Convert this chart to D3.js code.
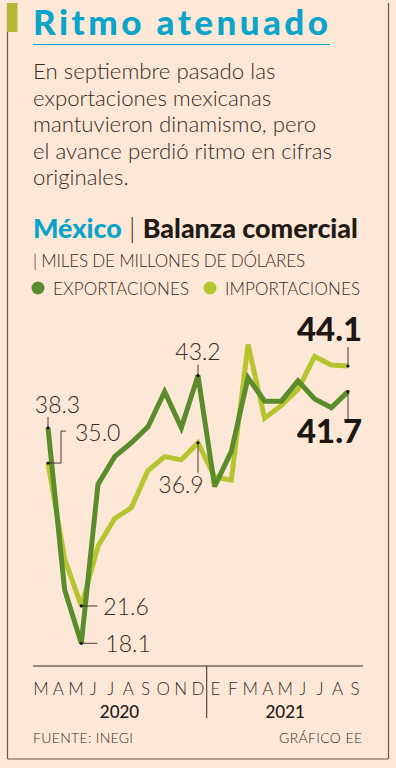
<!DOCTYPE html>
<html>
<head>
<meta charset="utf-8">
<script src="https://cdn.jsdelivr.net/npm/d3@7"></script>
<style>
  html, body { margin: 0; padding: 0; background: #fde8d7; }
  svg { display: block; }
  text { font-family: Lato, "Open Sans", sans-serif; }
</style>
</head>
<body>
<svg id="chart" width="396" height="768"></svg>
<script>
// ---- DATA ----
const months = ["M","A","M","J","J","A","S","O","N","D","E","F","M","A","M","J","J","A","S"];
const monthYear = ["2020","2020","2020","2020","2020","2020","2020","2020","2020","2020",
                   "2021","2021","2021","2021","2021","2021","2021","2021","2021"];
const years = ["2020", "2021"];
const exportaciones = [38.3, 23.1, 18.1, 33.0, 35.6, 36.9, 38.4, 41.7, 38.3, 43.2,
                       32.8, 36.1, 43.0, 40.8, 40.8, 42.7, 41.0, 40.2, 41.7];
const importaciones = [35.0, 26.0, 21.6, 27.2, 29.8, 30.8, 34.3, 35.6, 35.3, 36.9,
                       33.7, 33.4, 46.1, 39.2, 40.4, 41.9, 45.0, 44.2, 44.1];
const title = "Ritmo atenuado";
const bodyLines = ["En septiembre pasado las", "exportaciones mexicanas",
                   "mantuvieron dinamismo, pero", "el avance perdió ritmo en cifras",
                   "originales."];
const seriesNames = ["EXPORTACIONES", "IMPORTACIONES"];

// ---- STYLE ----
const BG = "#fde8d7", TXT = "#3a2a22", CYAN = "#0aa3c9";
const DARK = "#5b8c2b", LIGHT = "#b6c52f", OLIVE = "#b3b734", FRAME = "#6e5545";

const svg = d3.select("#chart");
svg.append("rect").attr("width", 396).attr("height", 768).attr("fill", BG);

// fit a text to a width by adjusting letter spacing (keeps glyph height)
function fitSpacing(sel, target) {
  const txt = sel.text();
  const n = Math.max(1, txt.length - 1);
  const w = sel.node().getComputedTextLength();
  sel.attr("letter-spacing", (target - w) / n);
}
function fitWidth(sel, target) {
  const base = parseFloat(sel.attr("font-size"));
  const w = sel.node().getComputedTextLength();
  sel.attr("font-size", base * target / w);
}

// frame
svg.append("line").attr("x1", 7.5).attr("x2", 7.5).attr("y1", 3).attr("y2", 759)
  .attr("stroke", FRAME).attr("stroke-width", 1.2);
svg.append("line").attr("x1", 388.5).attr("x2", 388.5).attr("y1", 3).attr("y2", 759)
  .attr("stroke", FRAME).attr("stroke-width", 1.2);
svg.append("line").attr("x1", 7.5).attr("x2", 388.5).attr("y1", 759).attr("y2", 759)
  .attr("stroke", FRAME).attr("stroke-width", 1.2);
svg.append("rect").attr("x", 7).attr("y", 3).attr("width", 10.5).attr("height", 29).attr("fill", OLIVE);

// title
const t = svg.append("text").attr("x", 33).attr("y", 34.5).attr("font-size", 35)
  .attr("font-weight", 900).attr("fill", CYAN).text(title);
fitSpacing(t, 295);
svg.append("line").attr("x1", 33).attr("x2", 330).attr("y1", 44.5).attr("y2", 44.5)
  .attr("stroke", CYAN).attr("stroke-width", 1);

// body
const bodyG = svg.append("g");
const probe = bodyG.append("text").attr("font-size", 20).attr("font-weight", 300).text(bodyLines[3]);
const bodySize = 20 * 299 / probe.node().getComputedTextLength();
probe.remove();
bodyG.selectAll("text").data(bodyLines).join("text")
  .attr("x", 33).attr("y", (d, i) => 79 + i * 26.6)
  .attr("font-size", bodySize).attr("font-weight", 300).attr("fill", TXT).text(d => d);

// subtitle
const sub = svg.append("text").attr("x", 33).attr("y", 238).attr("font-size", 21);
sub.append("tspan").attr("font-weight", 900).attr("fill", CYAN).text("México");
sub.append("tspan").attr("font-weight", 300).attr("fill", TXT).text(" | ");
sub.append("tspan").attr("font-weight", 900).attr("fill", "#231a15").text("Balanza comercial");
fitWidth(sub, 325);

const units = svg.append("text").attr("x", 33).attr("y", 266.5).attr("font-size", 17)
  .attr("font-weight", 300).attr("fill", TXT).text("| MILES DE MILLONES DE DÓLARES");
fitSpacing(units, 272);

// legend
const legX = [38, 210];
const legColors = [DARK, LIGHT];
const leg = svg.append("g").selectAll("g").data(seriesNames).join("g");
leg.append("circle").attr("cx", (d, i) => legX[i]).attr("cy", 288).attr("r", 6.5)
  .attr("fill", (d, i) => legColors[i]);
leg.append("text").attr("x", (d, i) => legX[i] + 15).attr("y", 295).attr("font-size", 17)
  .attr("font-weight", 300).attr("fill", TXT).text(d => d)
  .each(function(d, i) { fitSpacing(d3.select(this), i === 0 ? 136 : 135); });

// ---- SCALES ----
const idx = d3.range(months.length);
const x = d3.scalePoint().domain(idx).range([48, 348]);
const xl = d3.scalePoint().domain(idx).range([41, 355]);
const y = d3.scaleLinear().domain([18.1, 44.1]).range([643.3, 366.0]);

// axis
const axisY = 666;
svg.append("line").attr("x1", 33).attr("x2", 363).attr("y1", axisY).attr("y2", axisY)
  .attr("stroke", TXT).attr("stroke-width", 1);
const sepX = (xl(9) + xl(10)) / 2;
svg.append("line").attr("x1", sepX).attr("x2", sepX).attr("y1", axisY).attr("y2", 718)
  .attr("stroke", TXT).attr("stroke-width", 1);
svg.append("g").selectAll("text").data(idx).join("text")
  .attr("x", i => xl(i)).attr("y", 695).attr("text-anchor", "middle")
  .attr("font-size", 17).attr("font-weight", 300).attr("fill", TXT).text(i => months[i]);
svg.append("g").selectAll("text").data(years).join("text")
  .attr("x", yr => d3.mean(idx.filter(i => monthYear[i] === yr), i => xl(i)))
  .attr("y", 718).attr("text-anchor", "middle").attr("font-size", 17)
  .attr("font-weight", 500).attr("fill", "#231a15").text(d => d);

// footer
const f1 = svg.append("text").attr("x", 33).attr("y", 743).attr("font-size", 14).attr("font-weight", 300)
  .attr("fill", TXT).text("FUENTE: INEGI");
fitSpacing(f1, 100);
const f2 = svg.append("text").attr("x", 279).attr("y", 743).attr("font-size", 14).attr("font-weight", 300)
  .attr("fill", TXT).text("GRÁFICO EE");
fitSpacing(f2, 83);

// lines
const line = d3.line().x((d, i) => x(i)).y(d => y(d));
svg.append("path").datum(importaciones).attr("d", line).attr("fill", "none")
  .attr("stroke", LIGHT).attr("stroke-width", 5).attr("stroke-linejoin", "miter").attr("stroke-miterlimit", 3);
svg.append("path").datum(exportaciones).attr("d", line).attr("fill", "none")
  .attr("stroke", DARK).attr("stroke-width", 5).attr("stroke-linejoin", "miter").attr("stroke-miterlimit", 3);

// annotations
const LEAD = "#4a3a32";
const ann = svg.append("g");
function dot(px, py) { ann.append("circle").attr("cx", px).attr("cy", py).attr("r", 1.6).attr("fill", "#111"); }
function lead(pts) { ann.append("path").attr("d", d3.line()(pts)).attr("fill", "none").attr("stroke", LEAD).attr("stroke-width", 1); }
function label(txt, px, py, anchor, size, weight, color) {
  return ann.append("text").attr("x", px).attr("y", py).attr("text-anchor", anchor)
    .attr("font-size", size).attr("font-weight", weight).attr("fill", color).text(txt);
}
const numSize = 23;
{ // 38.3
  const px = x(0), py = y(exportaciones[0]);
  lead([[px, py], [px, py - 11]]); dot(px, py);
  label(exportaciones[0].toFixed(1), px + 9.5, py - 15, "middle", numSize, 300, TXT);
}
{ // 35.0
  const px = x(0), py = y(importaciones[0]);
  lead([[px, py], [px + 13, py], [px + 13, py - 32], [px + 18, py - 32]]); dot(px, py);
  label(importaciones[0].toFixed(1), px + 27, py - 22, "start", numSize, 300, TXT);
}
{ // 21.6
  const px = x(2), py = y(importaciones[2]);
  lead([[px, py], [px + 16, py]]); dot(px, py);
  label(importaciones[2].toFixed(1), px + 22, py + 9, "start", numSize, 300, TXT);
}
{ // 18.1
  const px = x(2), py = y(exportaciones[2]);
  lead([[px, py], [px + 16, py]]); dot(px, py);
  label(exportaciones[2].toFixed(1), px + 24, py + 9, "start", numSize, 300, TXT);
}
{ // 43.2
  const px = x(9), py = y(exportaciones[9]);
  lead([[px, py], [px, py - 11]]); dot(px, py);
  label(exportaciones[9].toFixed(1), px, py - 16, "middle", numSize, 300, TXT);
}
{ // 36.9
  const px = x(9), py = y(importaciones[9]);
  lead([[px, py], [px, py + 30]]); dot(px, py);
  label(importaciones[9].toFixed(1), px - 17, py + 50, "middle", numSize, 300, TXT);
}
{ // 44.1
  const px = x(18), py = y(importaciones[18]);
  lead([[px, py], [px, py - 19]]); dot(px, py);
  const l = label(importaciones[18].toFixed(1), px + 14, py - 25, "end", 30, 900, "#1e1612");
  fitWidth(l, 65);
}
{ // 41.7
  const px = x(18), py = y(exportaciones[18]);
  lead([[px, py], [px, py + 28]]); dot(px, py);
  const l = label(exportaciones[18].toFixed(1), px + 14, py + 51, "end", 30, 900, "#1e1612");
  fitWidth(l, 65);
}
</script>
</body>
</html>
